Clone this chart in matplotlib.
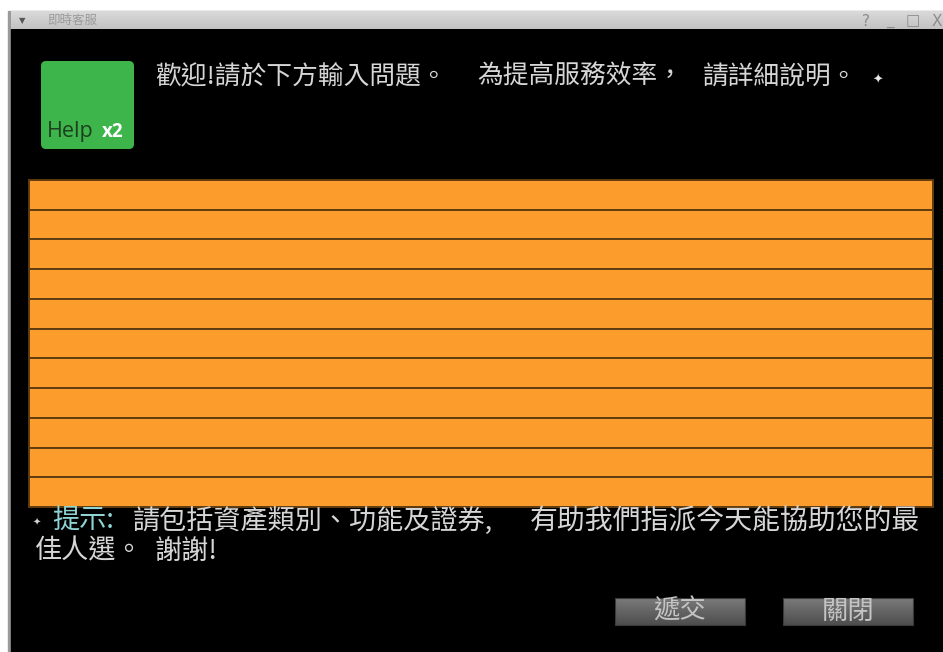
import numpy as np
import matplotlib
matplotlib.use("Agg")
import matplotlib.pyplot as plt
from matplotlib.patches import Rectangle, FancyBboxPatch

plt.rcParams['font.family'] = ['Noto Sans CJK TC', 'DejaVu Sans']

# ---- content ----
window_title = "即時客服"
title_controls = ["?", "_", "□", "X"]
logo_word = "Help"
logo_suffix = "x2"
header_parts = ["歡迎!請於下方輸入問題。", "為提高服務效率，", "請詳細說明。"]
hint_label = "提示:"
hint_line1 = ["請包括資產類別、功能及證券,", "有助我們指派今天能協助您的最"]
hint_line2 = ["佳人選。", "謝謝!"]
button_labels = ["遞交", "關閉"]
input_rows = list(range(11))

W, H = 943, 652
fig = plt.figure(figsize=(W / 100, H / 100), dpi=100)
ax = fig.add_axes([0, 0, 1, 1])
ax.set_xlim(0, W)
ax.set_ylim(H, 0)
ax.axis('off')
fig.patch.set_facecolor('white')

# window frame
ax.add_patch(Rectangle((8, 11), W - 8, H - 11, color='#9a9a9a', zorder=0))
ax.add_patch(Rectangle((11, 29), W - 11, H - 29, color='black', zorder=1))
# title bar gradient
grad = np.linspace(0, 1, 50).reshape(-1, 1)
ax.imshow(grad, extent=(11, W, 29, 11), cmap=matplotlib.colors.LinearSegmentedColormap.from_list(
    'tb', ['#dadada', '#c2c2c2']), aspect='auto', zorder=2)
ax.text(22, 21, "▼", color='#555555', fontsize=6, ha='center', va='center',
        family='DejaVu Sans', zorder=3)
ax.text(47, 20, window_title, color='#9a9a9a', fontsize=9, ha='left', va='center', zorder=3)
for i, s in enumerate(title_controls):
    ax.text(866 + i * 23.5, 21, s, color='#8c8c8c', fontsize=11, ha='center', va='center',
            family='DejaVu Sans', zorder=3)

# logo
ax.add_patch(FancyBboxPatch((41, 61), 93, 88, boxstyle="round,pad=0,rounding_size=5",
                            facecolor='#3db54a', edgecolor='none', zorder=3))
ax.text(47, 132, logo_word, color='#1d3f20', fontsize=15.5, ha='left', va='center',
        family='Open Sans', zorder=4)
ax.text(102, 132, logo_suffix, color='white', fontsize=13.5, ha='left', va='center',
        family='Open Sans', fontweight='bold', zorder=4)

# header text
txt = '#d6d6d6'
hx = [155, 477, 703]
for x, s in zip(hx, header_parts):
    ax.text(x, 77, s, color=txt, fontsize=18.5, ha='left', va='center', zorder=4)
ax.text(878, 80, "✦", color='#e8e8e8', fontsize=9, ha='center', va='center',
        family='DejaVu Sans', zorder=4)

# orange input rows
top, bottom = 180, 507
rh = (bottom - top) / len(input_rows)
ycent = [top + rh * (i + 0.5) for i in input_rows]
ax.barh(ycent, [904] * len(input_rows), height=rh, left=29, color='#fb9c2c',
        edgecolor='#5e3c10', linewidth=1.4, zorder=3)

# hint text
ax.text(37, 523, "✦", color='#d0d0d0', fontsize=7, ha='center', va='center',
        family='DejaVu Sans', zorder=4)
ax.text(52, 521, hint_label, color='#8fd3d3', fontsize=19.5, ha='left', va='center', zorder=4)
for x, s, fs in zip([133, 530], hint_line1, [19.5, 20.1]):
    ax.text(x, 521, s, color=txt, fontsize=fs, ha='left', va='center', zorder=4)
for x, s in zip([35, 155], hint_line2):
    ax.text(x, 551, s, color=txt, fontsize=19.5, ha='left', va='center', zorder=4)

# buttons
bcmap = matplotlib.colors.LinearSegmentedColormap.from_list('bt', ['#7a7a7a', '#4e4e4e'])
for bx, lab in zip([615, 783], button_labels):
    ax.imshow(grad, extent=(bx, bx + 130, 625, 598), cmap=bcmap, aspect='auto', zorder=3)
    ax.add_patch(Rectangle((bx, 598), 130, 27, fill=False, edgecolor='#3a3a3a', lw=0.8, zorder=4))
    ax.text(bx + 65, 611, lab, color='#c4c4c4', fontsize=19, ha='center', va='center', zorder=5)

ax.set_xlim(0, W)
ax.set_ylim(H, 0)
fig.savefig('out.png', dpi=100, facecolor='white')
